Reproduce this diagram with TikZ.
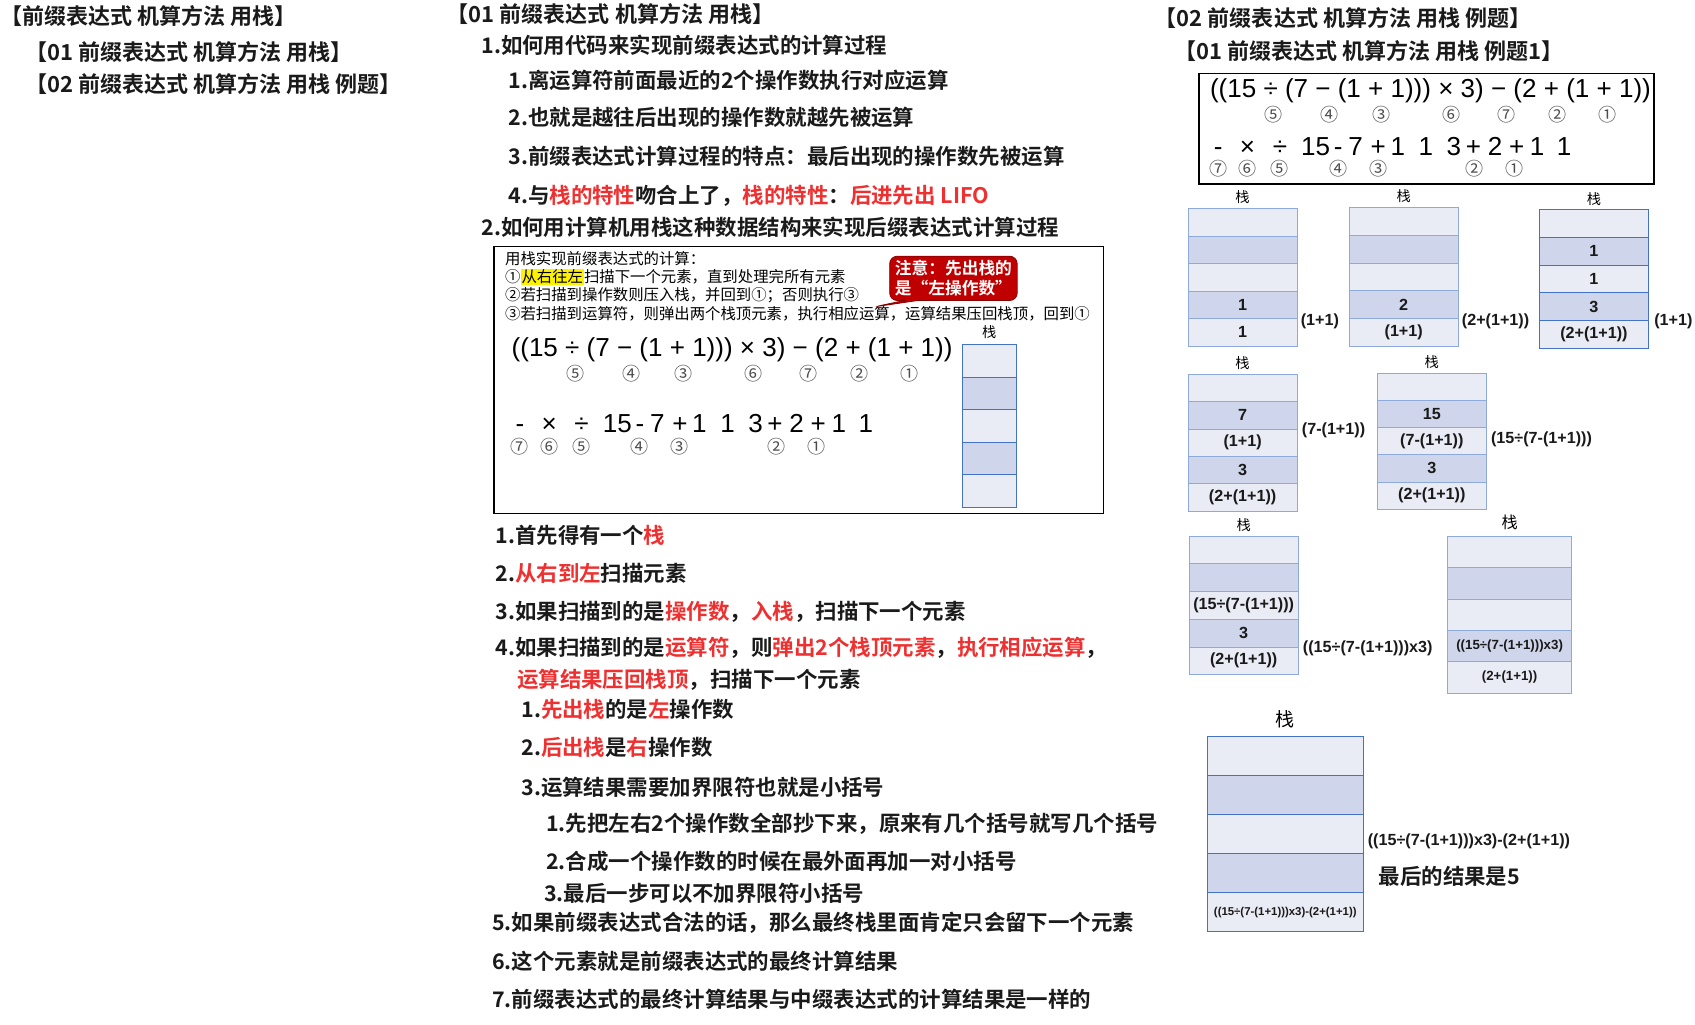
\documentclass[tikz,border=0pt]{standalone}
\usepackage{fontspec}
\setmainfont{Noto Sans CJK SC}
\newfontfamily\hei{Noto Sans CJK SC Bold}
\newfontfamily\song{Noto Sans CJK SC}
\newfontfamily\arial{Liberation Sans}
\usetikzlibrary{positioning,shapes.callouts}

\definecolor{ink}{RGB}{26,26,26}
\definecolor{hlred}{RGB}{238,48,48}
\definecolor{stlight}{RGB}{233,235,245}
\definecolor{stdark}{RGB}{207,213,234}
\definecolor{stline}{RGB}{142,170,219}
\definecolor{stlinedark}{RGB}{68,114,196}
\definecolor{notered}{RGB}{192,0,0}

\setlength{\fboxsep}{0.5pt}
\newcommand\hl[1]{\textcolor{hlred}{#1}}
\newcommand\px{0.02cm}
\newcommand\fsmall{\fontsize{7}{8}\selectfont}
\newcommand\ftiny{\fontsize{6}{7}\selectfont}

\tikzset{
  heading/.style={anchor=west, inner sep=0pt, text=ink, font=\hei\fontsize{11.6}{13}\selectfont},
  listitem/.style={anchor=west, inner sep=0pt, text=ink, font=\hei\fontsize{11.3}{13}\selectfont},
  boxtext/.style={anchor=west, inner sep=0pt, font=\song\fontsize{8.1}{9.5}\selectfont},
  expr/.style={inner sep=0pt, font=\arial\fontsize{13.7}{15}\selectfont},
  circ/.style={inner sep=0pt, text=black!70, font=\song\fontsize{9.5}{10}\selectfont},
  cellbase/.style={draw, inner sep=0pt, text=ink, font=\arial\bfseries\fontsize{8.5}{10}\selectfont},
  cell1/.style={cellbase, fill=stlight},
  cell0/.style={cellbase, fill=stdark},
  stacktitle/.style={inner sep=0pt, font=\song\fontsize{7.5}{9}\selectfont},
  steplabel/.style={anchor=west, inner sep=0pt, text=ink, font=\arial\bfseries\fontsize{8.5}{10}\selectfont},
}

% stack: [border] name, left x, top y, width, cell height, labels top to bottom
\newcommand\stackcells[7][stline]{%
  \foreach \lab [count=\k, evaluate=\k as \parity using {int(mod(\k,2))}] in {#7}
    \node[cell\parity, draw=#1, minimum width=#5*\px, minimum height=#6*\px]
      (#2-\k) at ({#3+#5/2}, {#4+(\k-0.5)*#6}) {\lab};
}

% infix line and prefix line: name, x shift, y of infix, y of prefix
\newcommand\prefixdemo[4]{%
  \node[expr, anchor=west] (#1-infix) at (#2+473, #3) {((15 ÷ (7 − (1 + 1))) × 3) − (2 + (1 + 1))};
  \foreach \c/\x [count=\k] in {⑤/532, ④/584, ③/632, ⑥/697, ⑦/748, ②/795, ①/841}
    \node[circ] (#1-a\k) at (#2+\x, #3+22) {\c};
  \foreach \t/\x [count=\k] in {-/481, ×/508, ÷/538, 15/571, -/592, 7/608, +/629, 1/647,
      1/673, 3/699, +/717, 2/737, +/757, 1/776, 1/801}
    \node[expr, anchor=base] (#1-t\k) at (#2+\x, #4+8.5) {\t};
  \foreach \c/\x [count=\k] in {⑦/481, ⑥/508, ⑤/538, ④/592, ③/629, ②/718, ①/755}
    \node[circ] (#1-b\k) at (#2+\x, #4+21) {\c};
}

\begin{document}
\begin{tikzpicture}[x=0.02cm, y=-0.02cm]
    \useasboundingbox (0,0) rectangle (1568,948);

    % Outline on the left
    \node[heading] (toc) at (0,15) {【前缀表达式 机算方法 用栈】};
    \node[heading] (toc1) at (23,48) {【01 前缀表达式 机算方法 用栈】};
    \node[heading] (toc2) at (23,78) {【02 前缀表达式 机算方法 用栈 例题】};

    % Middle column
    \node[heading] (sec1) at (413,13) {【01 前缀表达式 机算方法 用栈】};
    \node[listitem] (q1) at (445,42) {1.如何用代码来实现前缀表达式的计算过程};
    \node[listitem] (q1a) at (470,74) {1.离运算符前面最近的2个操作数执行对应运算};
    \node[listitem] (q1b) at (470,109) {2.也就是越往后出现的操作数就越先被运算};
    \node[listitem] (q1c) at (470,145) {3.前缀表达式计算过程的特点：最后出现的操作数先被运算};
    \node[listitem] (q1d) at (470,181) {4.与\hl{栈的特性}吻合上了，\hl{栈的特性}：\hl{后进先出 LIFO}};
    \node[listitem] (q2) at (445,210) {2.如何用计算机用栈这种数据结构来实现后缀表达式计算过程};

    % Boxed summary
    \draw[thick] (457,228) rectangle (1021,475);
    \node[boxtext] (b0) at (467,239) {用栈实现前缀表达式的计算：};
    \node[boxtext] (b1) at (467,256) {①\colorbox{yellow}{从右往左}扫描下一个元素，直到处理完所有元素};
    \node[boxtext] (b2) at (467,273) {②若扫描到操作数则压入栈，并回到①；否则执行③};
    \node[boxtext] (b3) at (467,290) {③若扫描到运算符，则弹出两个栈顶元素，执行相应运算，运算结果压回栈顶，回到①};
    \node[rectangle callout, fill=notered, draw=notered!70!black, rounded corners=4pt,
          text=white, align=left, inner sep=2pt, font=\hei\fontsize{8.8}{10.5}\selectfont,
          minimum width=118*\px, minimum height=41*\px,
          callout absolute pointer={(808,284)}] (note) at (882,257.5) {注意：先出栈的\\是“左操作数”};
    \prefixdemo{ex}{0}{324}{392}
    \stackcells[stlinedark]{bs}{890}{319}{50}{30}{{},{},{},{},{}}
    \node[stacktitle, above=3pt of bs-1] (bs-title) {栈};

    % Steps
    \node[listitem] (p1) at (458,495) {1.首先得有一个\hl{栈}};
    \node[listitem] (p2) at (458,530) {2.\hl{从右到左}扫描元素};
    \node[listitem] (p3) at (458,566) {3.如果扫描到的是\hl{操作数}，\hl{入栈}，扫描下一个元素};
    \node[listitem] (p4) at (458,599) {4.如果扫描到的是\hl{运算符}，则\hl{弹出2个栈顶元素}，\hl{执行相应运算}，};
    \node[listitem] (p4x) at (478,629) {\hl{运算结果压回栈顶}，扫描下一个元素};
    \node[listitem] (p4a) at (482,656) {1.\hl{先出栈}的是\hl{左}操作数};
    \node[listitem] (p4b) at (482,691) {2.\hl{后出栈}是\hl{右}操作数};
    \node[listitem] (p4c) at (482,728) {3.运算结果需要加界限符也就是小括号};
    \node[listitem] (p4c1) at (505,762) {1.先把左右2个操作数全部抄下来，原来有几个括号就写几个括号};
    \node[listitem] (p4c2) at (505,797) {2.合成一个操作数的时候在最外面再加一对小括号};
    \node[listitem] (p4c3) at (503,826) {3.最后一步可以不加界限符小括号};
    \node[listitem] (p5) at (455,854) {5.如果前缀表达式合法的话，那么最终栈里面肯定只会留下一个元素};
    \node[listitem] (p6) at (455,889) {6.这个元素就是前缀表达式的最终计算结果};
    \node[listitem] (p7) at (455,924) {7.前缀表达式的最终计算结果与中缀表达式的计算结果是一样的};

    % Right column: worked example
    \node[heading] (sec2) at (1068,17) {【02 前缀表达式 机算方法 用栈 例题】};
    \node[heading] (sec2a) at (1086,47) {【01 前缀表达式 机算方法 用栈 例题1】};
    \draw[thick] (1109,68) rectangle (1530,170);
    \prefixdemo{rx}{646}{84}{135}

    % Stack snapshots
    \stackcells{s1}{1099}{193}{101}{25.4}{{},{},{},1,1}
    \stackcells{s2}{1248}{192}{101}{25.6}{{},{},{},2,(1+1)}
    \stackcells[stlinedark]{s3}{1424}{194}{101}{25.6}{{},1,1,3,(2+(1+1))}
    \stackcells{s4}{1099}{346}{101}{25.4}{{},7,(1+1),3,(2+(1+1))}
    \stackcells{s5}{1274}{345}{101}{25.2}{{},15,(7-(1+1)),3,(2+(1+1))}
    \stackcells{s6}{1100}{496}{101}{25.6}{{},{},(15÷(7-(1+1))),3,(2+(1+1))}
    \stackcells{s7}{1339}{496}{115}{29}{{},{},{},{\fsmall ((15÷(7-(1+1)))x3)},{\fsmall (2+(1+1))}}
    \stackcells[stlinedark]{s8}{1117}{681}{144}{36.2}{{},{},{},{},{\ftiny ((15÷(7-(1+1)))x3)-(2+(1+1))}}

    \foreach \s in {s1,s2,s3,s4,s5,s6}
        \node[stacktitle, above=2pt of \s-1] (\s-title) {栈};
    \node[stacktitle, above=3pt of s7-1, font=\song\fontsize{8.5}{10}\selectfont] (s7-title) {栈};
    \node[stacktitle, above=4pt of s8-1, font=\song\fontsize{10}{12}\selectfont] (s8-title) {栈};

    \node[steplabel] (s1-res) at (1203,297) {(1+1)};
    \node[steplabel] (s2-res) at (1352,297) {(2+(1+1))};
    \node[steplabel] (s3-res) at (1530,297) {(1+1)};
    \node[steplabel] (s4-res) at (1204,398) {(7-(1+1))};
    \node[steplabel] (s5-res) at (1379,406) {(15÷(7-(1+1)))};
    \node[steplabel] (s6-res) at (1205,600) {((15÷(7-(1+1)))x3)};
    \node[steplabel] (s8-res) at (1265,778) {((15÷(7-(1+1)))x3)-(2+(1+1))};
    \node[listitem] (s8-final) at (1275,811) {最后的结果是5};
\end{tikzpicture}
\end{document}
